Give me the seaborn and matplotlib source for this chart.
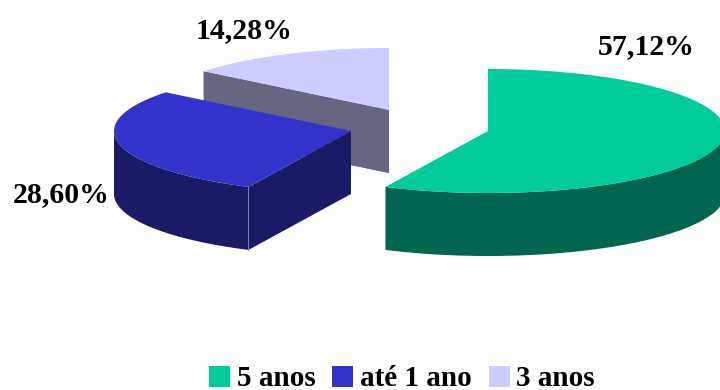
import numpy as np
import matplotlib
matplotlib.use("Agg")
import matplotlib.pyplot as plt
from matplotlib.patches import Polygon, Rectangle
import seaborn as sns

# Share of respondents by time band
categories = ["5 anos", "até 1 ano", "3 anos"]
shares = [57.12, 28.60, 14.28]
share_labels = ["57,12%", "28,60%", "14,28%"]

top_colors = ["#00CC99", "#3333CC", "#CCCCFF"]
side_colors = ["#006650", "#1A1A66", "#666680"]

# Exploded slice apexes, disc radii and extrusion depth, in canvas pixels
apexes = [(488, 131), (351, 131), (389, 110)]
RX, RY, DEPTH = 237, 62, 63
label_pos = [(646, 47), (61, 195), (244, 31)]

# Legend layout: swatch left edges and text starts
swatch_x = [209, 332, 489]
legend_text_x = [237, 360, 516]
SWATCH = 21

sns.set_theme(style="white")
plt.rcParams["font.family"] = ["Liberation Serif", "DejaVu Serif"]

fig = plt.figure(figsize=(7.2, 3.9), dpi=100, facecolor="white")
ax = fig.add_axes([0, 0, 1, 1])
ax.set_xlim(0, 720)
ax.set_ylim(390, 0)
ax.axis("off")


def rim(apex, start, stop):
    """Points along the disc edge; angles run clockwise from twelve o'clock."""
    t = np.radians(np.linspace(start, stop, 160))
    return np.column_stack([apex[0] + RX * np.sin(t), apex[1] - RY * np.cos(t)]), np.degrees(t)


bounds = np.concatenate([[0], np.cumsum(shares)]) * 3.6

# Painted back to front: pale slice, then blue, then green
for i in [2, 1, 0]:
    apex = np.array(apexes[i], dtype=float)
    start, stop = bounds[i], bounds[i + 1]
    edge, angles = rim(apex, start, stop)
    base_z = 7 - i * 3

    # Cut faces: the leading edge faces the viewer past six o'clock,
    # the trailing edge of the last slice faces the viewer as well
    ends = []
    if start > 90:
        ends.append(edge[0])
    if i == 2:
        ends.append(edge[0])
        ends.append(edge[-1])
    for end_pt in ends:
        face = np.array([apex, end_pt, end_pt + [0, DEPTH], apex + [0, DEPTH]])
        ax.add_patch(Polygon(face, closed=True, fc=side_colors[i], ec="none", zorder=base_z))

    # Outer wall along the front half of the rim
    low = edge[(angles >= 90) & (angles <= 270)]
    if len(low):
        wall = np.vstack([low, (low + [0, DEPTH])[::-1]])
        ax.add_patch(Polygon(wall, closed=True, fc=side_colors[i], ec="none", zorder=base_z))

    top = np.vstack([apex, edge])
    ax.add_patch(Polygon(top, closed=True, fc=top_colors[i], ec="none", zorder=base_z + 1))

    ax.text(*label_pos[i], share_labels[i], fontsize=21.5, fontweight="bold", color="black",
            ha="center", va="center", zorder=20)

# Light seam where the blue wall meets its cut face
seam = rim(np.array(apexes[1], dtype=float), bounds[1], bounds[1])[0][0]
ax.plot([seam[0], seam[0]], [seam[1], seam[1] + DEPTH], color="#8080B0", lw=0.7, zorder=6)

# Legend row along the bottom edge
for name, color, sx, tx in zip(categories, top_colors, swatch_x, legend_text_x):
    ax.add_patch(Rectangle((sx, 366), SWATCH, SWATCH, fc=color, ec="none"))
    ax.text(tx, 385.5, name, fontsize=21, fontweight="bold", color="black",
            ha="left", va="baseline")

fig.savefig("out.png", dpi=100, facecolor="white")
